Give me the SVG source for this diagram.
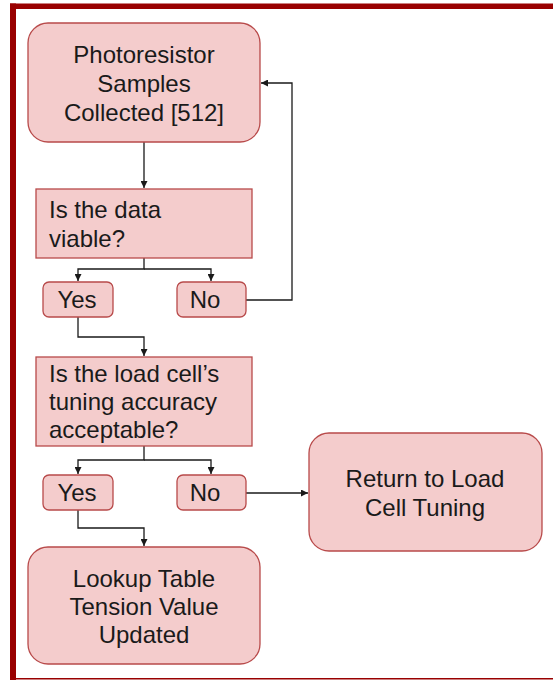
<svg xmlns="http://www.w3.org/2000/svg" width="553" height="680" viewBox="0 0 553 680">
  <style>
    .box { fill: #f4cccc; stroke: #b84a4a; stroke-width: 1.3; }
    .t { font-family: "Liberation Sans", Arial, sans-serif; font-size: 24px; fill: #1a1a1a; }
    .c { text-anchor: middle; }
    .wire { fill: none; stroke: #1a1a1a; stroke-width: 1.3; }
  </style>
  <defs>
    <marker id="arrow" viewBox="0 0 10 10" refX="10" refY="5" markerWidth="7" markerHeight="7" markerUnits="userSpaceOnUse" orient="auto">
      <path d="M0,0 L10,5 L0,10 z" fill="#1a1a1a"/>
    </marker>
  </defs>

  <rect width="553" height="680" fill="#ffffff"/>
  <!-- frame -->
  <g id="frame" fill="#990000">
    <rect x="10" y="3.5" width="543" height="5.5"/>
    <rect x="10" y="3.5" width="6" height="676.5"/>
    <rect x="10" y="678" width="543" height="1.5"/>
  </g>

  <!-- connectors -->
  <g id="connectors" class="wire">
    <path d="M144,142 V188" marker-end="url(#arrow)"/>
    <path d="M144,258 V269 H78 V281" marker-end="url(#arrow)"/>
    <path d="M144,269 H211 V281" marker-end="url(#arrow)"/>
    <path d="M246,300 H292 V83 H261" marker-end="url(#arrow)"/>
    <path d="M78,317 V337 H144 V356" marker-end="url(#arrow)"/>
    <path d="M144,446 V460 H78 V474" marker-end="url(#arrow)"/>
    <path d="M144,460 H211 V474" marker-end="url(#arrow)"/>
    <path d="M246,493 H308" marker-end="url(#arrow)"/>
    <path d="M78,510 V528 H144 V546" marker-end="url(#arrow)"/>
  </g>

  <g id="samples">
    <rect class="box" x="28" y="23" width="232" height="119" rx="20"/>
    <text class="t c" x="144" y="63">Photoresistor</text>
    <text class="t c" x="144" y="92">Samples</text>
    <text class="t c" x="144" y="121">Collected [512]</text>
  </g>

  <g id="viable">
    <rect class="box" x="36" y="189" width="216" height="69"/>
    <text class="t" x="49" y="218">Is the data</text>
    <text class="t" x="49" y="247">viable?</text>
  </g>

  <g id="yes1">
    <rect class="box" x="43" y="282" width="70" height="35" rx="6"/>
    <text class="t c" x="77" y="308">Yes</text>
  </g>

  <g id="no1">
    <rect class="box" x="177" y="282" width="69" height="35" rx="6"/>
    <text class="t c" x="205" y="308">No</text>
  </g>

  <g id="accuracy">
    <rect class="box" x="36" y="357" width="216" height="89"/>
    <text class="t" x="49" y="382">Is the load cell’s</text>
    <text class="t" x="49" y="410">tuning accuracy</text>
    <text class="t" x="49" y="438">acceptable?</text>
  </g>

  <g id="yes2">
    <rect class="box" x="43" y="475" width="70" height="35" rx="6"/>
    <text class="t c" x="77" y="501">Yes</text>
  </g>

  <g id="no2">
    <rect class="box" x="177" y="475" width="69" height="35" rx="6"/>
    <text class="t c" x="205" y="501">No</text>
  </g>

  <g id="retune">
    <rect class="box" x="309" y="433" width="233" height="118" rx="20"/>
    <text class="t c" x="425" y="487">Return to Load</text>
    <text class="t c" x="425" y="516">Cell Tuning</text>
  </g>

  <g id="lookup">
    <rect class="box" x="28" y="547" width="232" height="117" rx="20"/>
    <text class="t c" x="144" y="587">Lookup Table</text>
    <text class="t c" x="144" y="615">Tension Value</text>
    <text class="t c" x="144" y="643">Updated</text>
  </g>
</svg>
